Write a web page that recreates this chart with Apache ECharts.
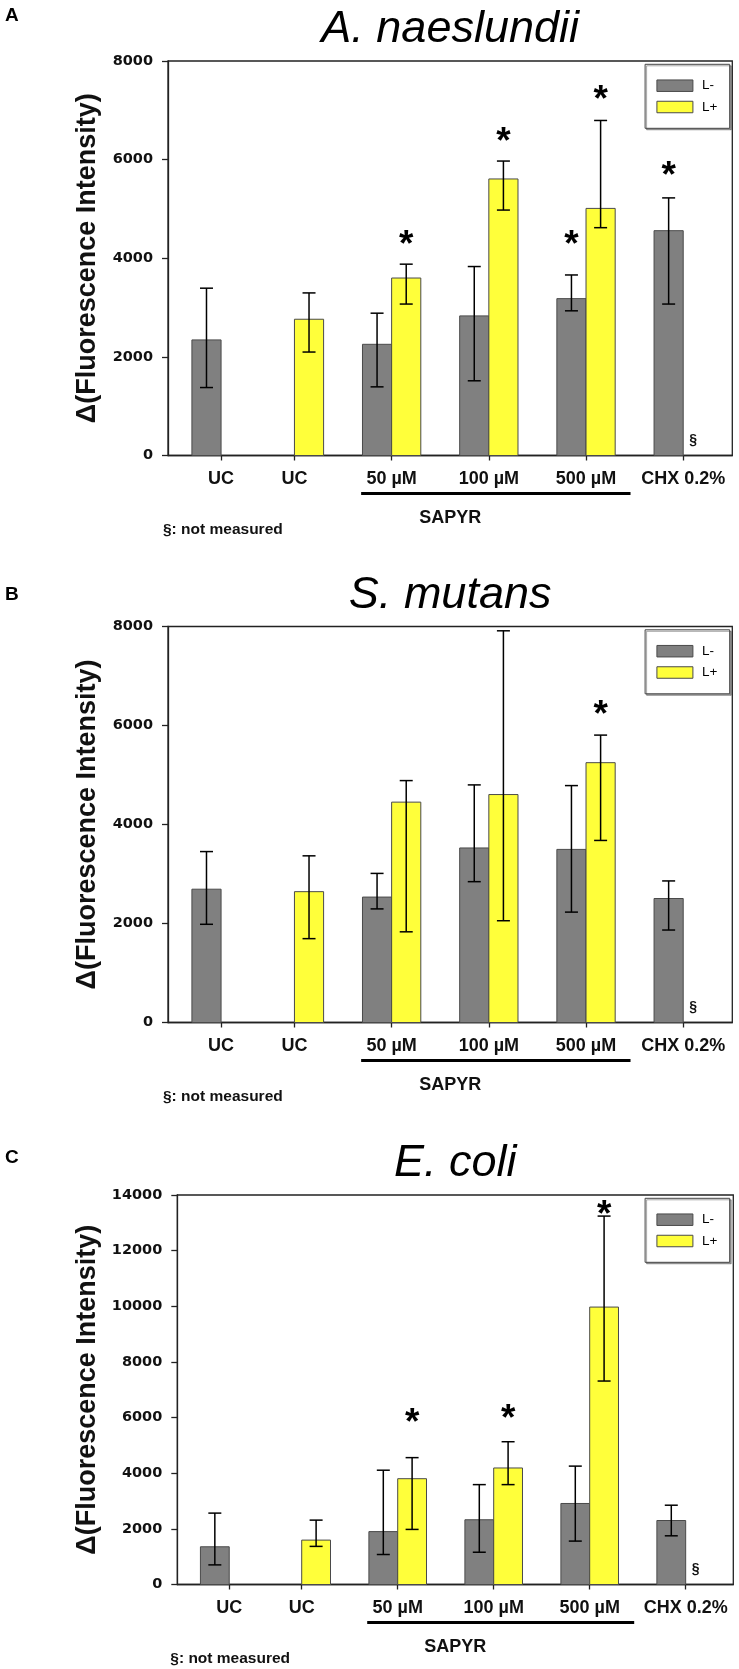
<!DOCTYPE html>
<html><head><meta charset="utf-8">
<script src="https://cdn.jsdelivr.net/npm/echarts@6/dist/echarts.min.js"></script>
<style>html,body{margin:0;padding:0;background:#fff}#c{width:739px;height:1669px}</style>
</head><body><div id="c"></div>
<script>
// ---------- data ----------
var categories = ['UC', 'UC', '50 µM', '100 µM', '500 µM', 'CHX 0.2%'];
var yTicksAB = [0, 2000, 4000, 6000, 8000];
var yTicksC = [0, 2000, 4000, 6000, 8000, 10000, 12000, 14000];

// A. naeslundii
var aMinus     = [2344, null, 2255, 2831, 3181, 4559];
var aMinusHi   = [3393, null, 2886, 3832, 3661, 5224];
var aMinusLo   = [1378, null, 1392, 1515, 2934, 3071];
var aMinusStar = [null, null, null, null, 4442, 5827];
var aPlus      = [null, 2763, 3599, 5608, 5011, null];
var aPlusHi    = [null, 3297, 3880, 5971, 6794, null];
var aPlusLo    = [null, 2098, 3071, 4977, 4620, null];
var aPlusStar  = [null, null, 4442, 6533, 7376, null];

// S. mutans
var bMinus     = [2693, null, 2534, 3526, 3497, 2505];
var bMinusHi   = [3453, null, 3012, 4800, 4786, 2860];
var bMinusLo   = [1984, null, 2295, 2845, 2230, 1868];
var bMinusStar = [null, null, null, null, null, null];
var bPlus      = [null, 2643, 4452, 4605, 5249, null];
var bPlusHi    = [null, 3367, 4887, 7913, 5806, null];
var bPlusLo    = [null, 1694, 1832, 2056, 3678, null];
var bPlusStar  = [null, null, null, null, 6371, null];

// E. coli
var cMinus     = [1356, null, 1901, 2327, 2912, 2300];
var cMinusHi   = [2566, null, 4108, 3590, 4255, 2850];
var cMinusLo   = [705, null, 1078, 1160, 1560, 1750];
var cMinusStar = [null, null, null, null, null, null];
var cPlus      = [null, 1596, 3803, 4188, 9972, null];
var cPlusHi    = [null, 2314, 4560, 5132, 13242, null];
var cPlusLo    = [null, 1370, 1980, 3590, 7313, null];
var cPlusStar  = [null, null, 6116, 6249, 13588, null];

var titles = ['A. naeslundii', 'S. mutans', 'E. coli'];
var letters = ['A', 'B', 'C'];
var seriesNames = ['L-', 'L+'];
var yName = 'Δ(Fluorescence Intensity)';
var groupLabel = 'SAPYR';
var noteText = '§: not measured';

// ---------- layout ----------
var catPos = [1, 1.755, 2.755, 3.755, 4.755, 5.755];
var BAR_W = 0.3;
var GRAY = '#808080', YELLOW = '#ffff3a', EDGE = '#4a4a4a', INK = '#111';
var FONT = 'Liberation Sans';

var panels = [
  {grid: {left: 168, top: 61, width: 564.3, height: 394.5}, xMin: 0.454, xMax: 6.26, ticks: yTicksAB,
   minus: [aMinus, aMinusHi, aMinusLo, aMinusStar], plus: [aPlus, aPlusHi, aPlusLo, aPlusStar],
   letterY: 16, nameGap: 67, noteDx: -5},
  {grid: {left: 168, top: 626.5, width: 564.3, height: 396}, xMin: 0.454, xMax: 6.26, ticks: yTicksAB,
   minus: [bMinus, bMinusHi, bMinusLo, bMinusStar], plus: [bPlus, bPlusHi, bPlusLo, bPlusStar],
   letterY: 595, nameGap: 67, noteDx: -5},
  {grid: {left: 177.3, top: 1195, width: 556, height: 389.5}, xMin: 0.459, xMax: 6.251, ticks: yTicksC,
   minus: [cMinus, cMinusHi, cMinusLo, cMinusStar], plus: [cPlus, cPlusHi, cPlusLo, cPlusStar],
   letterY: 1158, nameGap: 76, noteDx: -7}
];

function buildData(arrs) {
  var out = [];
  for (var i = 0; i < categories.length; i++) {
    if (arrs[0][i] == null) continue;
    out.push([catPos[i], arrs[0][i], arrs[1][i], arrs[2][i], arrs[3][i] == null ? NaN : arrs[3][i]]);
  }
  return out;
}

function makeBar(side, color) {
  return function (params, api) {
    var x = api.value(0), v = api.value(1), hi = api.value(2), lo = api.value(3), star = api.value(4);
    var p0 = api.coord([x, 0]);
    var pv = api.coord([x, v]);
    var w = api.size([BAR_W, 0])[0];
    var left = side < 0 ? p0[0] - w : p0[0];
    var cx = left + w / 2;
    var ph = api.coord([x, hi]), pl = api.coord([x, lo]);
    var cap = 6.5;
    var ls = {stroke: '#000', lineWidth: 1.5};
    var ch = [
      {type: 'rect', shape: {x: left, y: pv[1], width: w, height: p0[1] - pv[1]},
       style: {fill: color, stroke: EDGE, lineWidth: 1}},
      {type: 'line', shape: {x1: cx, y1: ph[1], x2: cx, y2: pl[1]}, style: ls},
      {type: 'line', shape: {x1: cx - cap, y1: ph[1], x2: cx + cap, y2: ph[1]}, style: ls},
      {type: 'line', shape: {x1: cx - cap, y1: pl[1], x2: cx + cap, y2: pl[1]}, style: ls}
    ];
    if (!isNaN(star)) {
      var ps = api.coord([x, star]);
      ch.push({type: 'text', x: cx, y: ps[1] + 9,
        style: {text: '*', fontSize: 37, fontWeight: 'bold', fontFamily: FONT, fill: '#000',
                align: 'center', verticalAlign: 'middle'}});
    }
    return {type: 'group', children: ch};
  };
}

function makeAnnot(p) {
  return function (params, api) {
    var base = api.coord([catPos[0], 0])[1];
    var x50 = api.coord([catPos[2], 0])[0];
    var x500 = api.coord([catPos[4], 0])[0];
    var xChx = api.coord([catPos[5], 0])[0];
    var xL = api.coord([p.xMin, 0])[0], xR = api.coord([p.xMax, 0])[0];
    return {type: 'group', children: [
      {type: 'line', shape: {x1: x50 - 30.5, y1: base + 38, x2: x500 + 44.5, y2: base + 38},
       style: {stroke: '#000', lineWidth: 3.2}},
      {type: 'text', x: (xL + xR) / 2, y: base + 62.7,
       style: {text: groupLabel, fontSize: 18, fontWeight: 'bold', fontFamily: FONT, fill: INK,
               align: 'center', verticalAlign: 'middle'}},
      {type: 'text', x: xL + p.noteDx, y: base + 74.3,
       style: {text: noteText, fontSize: 15.5, fontWeight: 'bold', fontFamily: FONT, fill: INK,
               align: 'left', verticalAlign: 'middle'}},
      {type: 'text', x: xChx + 10, y: base - 15,
       style: {text: '§', fontSize: 14, fontWeight: 'bold', fontFamily: FONT, fill: INK,
               align: 'center', verticalAlign: 'middle'}}
    ]};
  };
}

function nearestCat(v) {
  var best = 0;
  for (var i = 1; i < catPos.length; i++) if (Math.abs(catPos[i] - v) < Math.abs(catPos[best] - v)) best = i;
  return categories[best];
}

var option = {
  animation: false,
  backgroundColor: '#fff',
  grid: [], xAxis: [], yAxis: [], series: [], legend: [], graphic: []
};

panels.forEach(function (p, i) {
  option.grid.push({left: p.grid.left, top: p.grid.top, width: p.grid.width, height: p.grid.height,
    show: true, borderColor: '#222', borderWidth: 1.3, backgroundColor: 'transparent'});
  option.xAxis.push({gridIndex: i, type: 'value', min: p.xMin, max: p.xMax,
    splitLine: {show: false},
    axisLine: {show: true, onZero: false, lineStyle: {color: '#222', width: 1.3}},
    axisTick: {show: true, customValues: catPos, length: 5, lineStyle: {color: '#222', width: 1.3}},
    axisLabel: {show: true, customValues: catPos, formatter: nearestCat, margin: 15,
      fontSize: 18, fontWeight: 'bold', fontFamily: FONT, color: INK}});
  option.yAxis.push({gridIndex: i, type: 'value', min: p.ticks[0], max: p.ticks[p.ticks.length - 1],
    interval: p.ticks[1] - p.ticks[0],
    splitLine: {show: false},
    axisLine: {show: true, lineStyle: {color: '#222', width: 1.3}},
    axisTick: {show: true, length: 6, lineStyle: {color: '#222', width: 1.3}},
    axisLabel: {show: true, margin: 15, fontSize: 14.5, fontWeight: 'bold', fontFamily: 'DejaVu Sans', color: INK,
      formatter: function (v) { return String(v); }},
    name: yName, nameLocation: 'middle', nameGap: p.nameGap,
    nameTextStyle: {fontSize: 27, fontWeight: 'bold', fontFamily: FONT, color: INK}});
  option.series.push({type: 'custom', name: seriesNames[0], xAxisIndex: i, yAxisIndex: i, z: 3,
    itemStyle: {color: GRAY, borderColor: EDGE, borderWidth: 1},
    renderItem: makeBar(-1, GRAY), data: buildData(p.minus)});
  option.series.push({type: 'custom', name: seriesNames[1], xAxisIndex: i, yAxisIndex: i, z: 3,
    itemStyle: {color: YELLOW, borderColor: EDGE, borderWidth: 1},
    renderItem: makeBar(1, YELLOW), data: buildData(p.plus)});
  option.series.push({type: 'custom', name: 'annot' + i, xAxisIndex: i, yAxisIndex: i, z: 4, silent: true,
    renderItem: makeAnnot(p), data: [[catPos[5], 0]]});
  option.legend.push({orient: 'vertical', right: 9.3, top: p.grid.top + 3.3, data: seriesNames,
    icon: 'rect', itemWidth: 36, itemHeight: 11.5, itemGap: 7.3, padding: [14.4, 12.4, 14.3, 11.3],
    backgroundColor: '#fff', borderColor: '#444', borderWidth: 1, selectedMode: false,
    shadowColor: 'rgba(0,0,0,0.35)', shadowOffsetX: 1.5, shadowOffsetY: 1.5, shadowBlur: 0,
    itemStyle: {borderColor: EDGE, borderWidth: 1},
    textStyle: {fontSize: 13.5, fontFamily: FONT, color: '#000', padding: [0, 0, 0, 4]}});
  var cx = p.grid.left + p.grid.width / 2;
  option.graphic.push({type: 'text', x: cx, y: p.grid.top - 31.5,
    style: {text: titles[i], fontSize: 45, fontStyle: 'italic', fontFamily: FONT, fill: '#000',
            align: 'center', verticalAlign: 'middle'}});
  option.graphic.push({type: 'text', x: 5, y: p.letterY,
    style: {text: letters[i], fontSize: 19, fontWeight: 'bold', fontFamily: FONT, fill: '#000',
            align: 'left', verticalAlign: 'middle'}});
});

var chart = echarts.init(document.getElementById('c'), null, {renderer: 'canvas'});
chart.setOption(option);
</script>
</body></html>
